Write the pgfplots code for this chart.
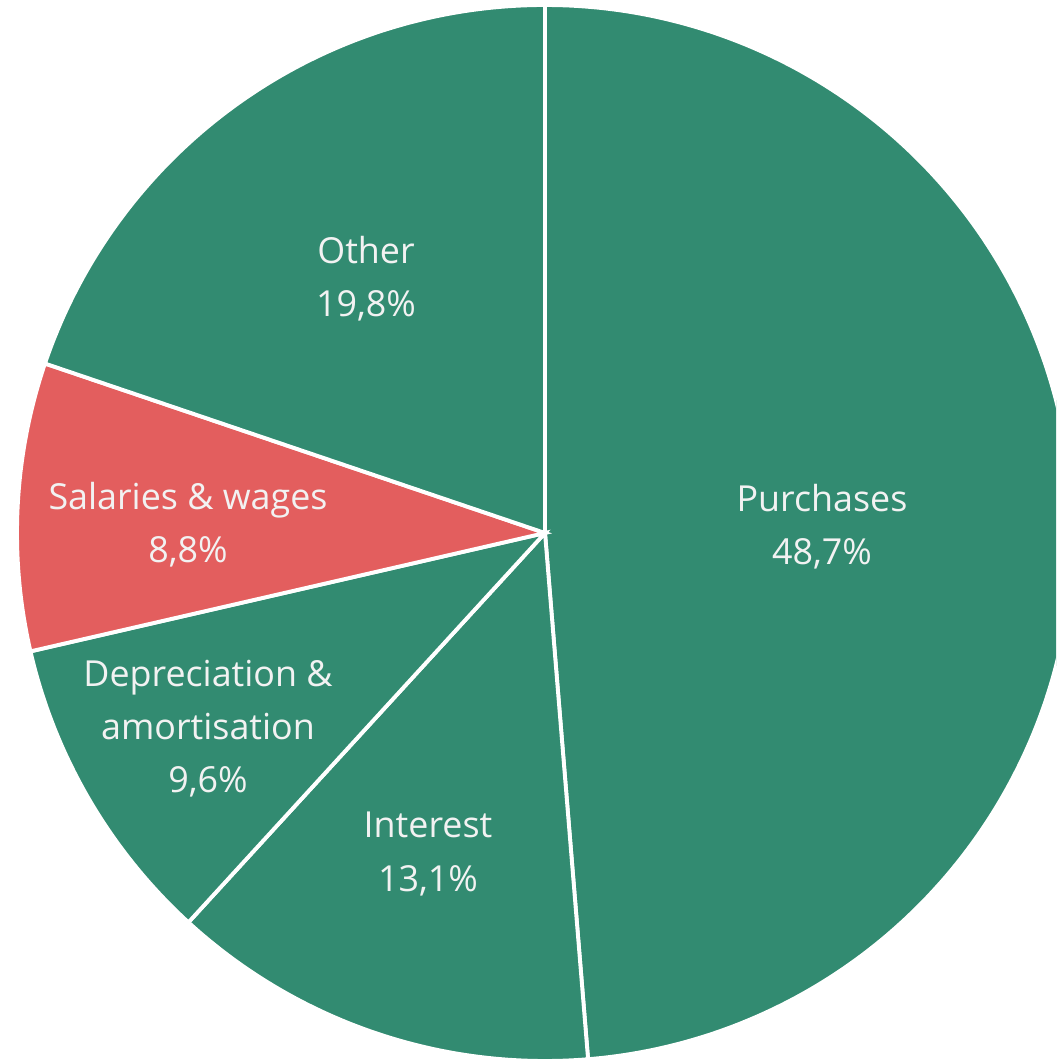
\documentclass[border=0pt]{standalone}
\usepackage{pgfplots}
\pgfplotsset{compat=1.18}
\usepackage{fontspec}
\setmainfont{Open Sans}

\definecolor{slicegreen}{HTML}{328B71}
\definecolor{slicered}{HTML}{E35E5E}
\definecolor{labeltext}{HTML}{F2F2F2}

% shares in percent, clockwise from 12 o'clock
\def\vPurchases{48.7}
\def\vInterest{13.1}
\def\vDepreciation{9.6}
\def\vSalaries{8.8}
\def\vOther{19.8}

% centre and radius in pixel units of the picture
\def\cx{545}
\def\cy{527}
\def\rad{528}

\pgfmathsetmacro\aA{90}
\pgfmathsetmacro\aB{\aA-3.6*\vPurchases}
\pgfmathsetmacro\aC{\aB-3.6*\vInterest}
\pgfmathsetmacro\aD{\aC-3.6*\vDepreciation}
\pgfmathsetmacro\aE{\aD-3.6*\vSalaries}
\pgfmathsetmacro\aF{\aE-3.6*\vOther}

\begin{document}
\begin{tikzpicture}
  \begin{axis}[
    width=10.56cm, height=10.60cm,
    scale only axis,
    xmin=0, xmax=1056,
    ymin=0, ymax=1060,
    hide axis,
    clip=true,
    every axis plot/.append style={draw=white, line width=1.1pt, samples=120, smooth},
    ]
    \addplot[fill=slicegreen, domain=\aB:\aA] ({\cx+\rad*cos(x)},{\cy+\rad*sin(x)}) -- (axis cs:\cx,\cy) -- cycle;
    \addplot[fill=slicegreen, domain=\aC:\aB] ({\cx+\rad*cos(x)},{\cy+\rad*sin(x)}) -- (axis cs:\cx,\cy) -- cycle;
    \addplot[fill=slicegreen, domain=\aD:\aC] ({\cx+\rad*cos(x)},{\cy+\rad*sin(x)}) -- (axis cs:\cx,\cy) -- cycle;
    \addplot[fill=slicered, domain=\aE:\aD] ({\cx+\rad*cos(x)},{\cy+\rad*sin(x)}) -- (axis cs:\cx,\cy) -- cycle;
    \addplot[fill=slicegreen, domain=\aF:\aE] ({\cx+\rad*cos(x)},{\cy+\rad*sin(x)}) -- (axis cs:\cx,\cy) -- cycle;

    \begin{scope}[every node/.style={text=labeltext, font=\fontsize{10.2pt}{15.1pt}\selectfont, align=center}]
      \node at (axis cs:822,533) {Purchases\\48,7\%};
      \node at (axis cs:428,206) {Interest\\13,1\%};
      \node at (axis cs:208,331) {Depreciation \&\\amortisation\\9,6\%};
      \node at (axis cs:188,535) {Salaries \& wages\\8,8\%};
      \node at (axis cs:366,781) {Other\\19,8\%};
    \end{scope}
  \end{axis}
  \pgfresetboundingbox
  \useasboundingbox (current axis.south west) rectangle (current axis.north east);
\end{tikzpicture}
\end{document}
